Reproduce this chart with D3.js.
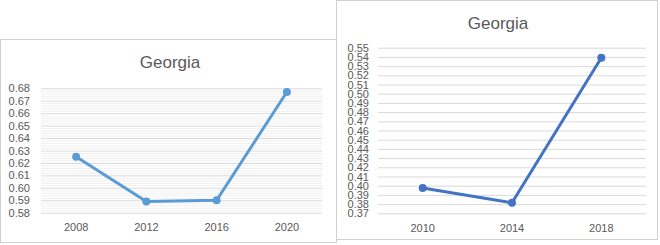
<!DOCTYPE html>
<html>
<head>
<meta charset="utf-8">
<script src="https://cdn.jsdelivr.net/npm/d3@7"></script>
<style>
  body { margin: 0; background: #fff; }
  svg { display: block; font-family: "Liberation Sans", Arial, sans-serif; }
</style>
</head>
<body>
<script>
// left chart data
const leftYears = ["2008", "2012", "2016", "2020"];
const leftValues = [0.625, 0.589, 0.590, 0.677];
const leftTicks = [0.58, 0.59, 0.60, 0.61, 0.62, 0.63, 0.64, 0.65, 0.66, 0.67, 0.68];

// right chart data
const rightYears = ["2010", "2014", "2018"];
const rightValues = [0.3975, 0.3815, 0.539];
const rightTicks = [0.37, 0.38, 0.39, 0.40, 0.41, 0.42, 0.43, 0.44, 0.45, 0.46,
                    0.47, 0.48, 0.49, 0.50, 0.51, 0.52, 0.53, 0.54, 0.55];

const title = "Georgia";

const svg = d3.select("body")
    .append("svg")
    .attr("width", 660)
    .attr("height", 245);

function drawChart(cfg) {
    const g = svg.append("g");

    // chart border
    g.append("rect")
        .attr("x", cfg.box[0] + 0.5)
        .attr("y", cfg.box[1] + 0.5)
        .attr("width", cfg.box[2] - cfg.box[0])
        .attr("height", cfg.box[3] - cfg.box[1])
        .attr("fill", "#fff")
        .attr("stroke", "#d0d0d0");

    const x = d3.scaleBand()
        .domain(cfg.years)
        .range([cfg.left, cfg.right])
        .padding(0);

    const y = d3.scaleLinear()
        .domain([cfg.ticks[0], cfg.ticks[cfg.ticks.length - 1]])
        .range([cfg.bottom, cfg.top]);

    // minor gridlines
    if (cfg.minor) {
        const minorTicks = d3.range(0, (cfg.ticks.length - 1) * 5)
            .filter(i => i % 5 !== 0)
            .map(i => cfg.ticks[0] + i * cfg.minor);
        g.append("g")
            .attr("transform", `translate(${cfg.left},0)`)
            .call(d3.axisLeft(y).tickValues(minorTicks).tickSize(-(cfg.right - cfg.left)).tickFormat(""))
            .call(a => a.select(".domain").remove())
            .call(a => a.selectAll("line").attr("stroke", "#efefef"));
    }

    // major gridlines + labels
    g.append("g")
        .attr("transform", `translate(${cfg.left},0)`)
        .call(d3.axisLeft(y).tickValues(cfg.ticks).tickSize(-(cfg.right - cfg.left))
            .tickPadding(cfg.yPad).tickFormat(d3.format(".2f")))
        .call(a => a.select(".domain").remove())
        .call(a => a.selectAll("line").attr("stroke", "#d9d9d9"))
        .call(a => a.selectAll("text").attr("fill", "#595959").attr("font-size", 11)
            .attr("font-family", "Liberation Sans, Arial, sans-serif"));

    // x axis
    g.append("g")
        .attr("transform", `translate(0,${cfg.bottom})`)
        .call(d3.axisBottom(x).tickSize(0).tickPadding(11))
        .call(a => a.select(".domain").remove())
        .call(a => a.selectAll("text").attr("fill", "#595959").attr("font-size", 11)
            .attr("font-family", "Liberation Sans, Arial, sans-serif"));

    const line = d3.line()
        .x((d, i) => x(cfg.years[i]) + x.bandwidth() / 2)
        .y(d => y(d));

    g.append("path")
        .datum(cfg.values)
        .attr("fill", "none")
        .attr("stroke", cfg.color)
        .attr("stroke-width", 3)
        .attr("stroke-linejoin", "round")
        .attr("d", line);

    g.selectAll("circle")
        .data(cfg.values)
        .enter()
        .append("circle")
        .attr("cx", (d, i) => x(cfg.years[i]) + x.bandwidth() / 2)
        .attr("cy", d => y(d))
        .attr("r", 4)
        .attr("fill", cfg.color);

    // title
    g.append("text")
        .attr("x", cfg.titleX)
        .attr("y", cfg.titleY)
        .attr("text-anchor", "middle")
        .attr("fill", "#595959")
        .attr("font-size", 17)
        .text(title);
}

drawChart({
    box: [0, 39, 336, 242],
    years: leftYears, values: leftValues, ticks: leftTicks, minor: 0.002,
    left: 41, right: 322, top: 88.3, bottom: 212.7,
    yPad: 11, color: "#5b9bd5",
    titleX: 170, titleY: 68
});

drawChart({
    box: [336, 0, 657, 239],
    years: rightYears, values: rightValues, ticks: rightTicks, minor: null,
    left: 378, right: 646, top: 47.7, bottom: 213.3,
    yPad: 9, color: "#4472c4",
    titleX: 498, titleY: 29
});
</script>
</body>
</html>
